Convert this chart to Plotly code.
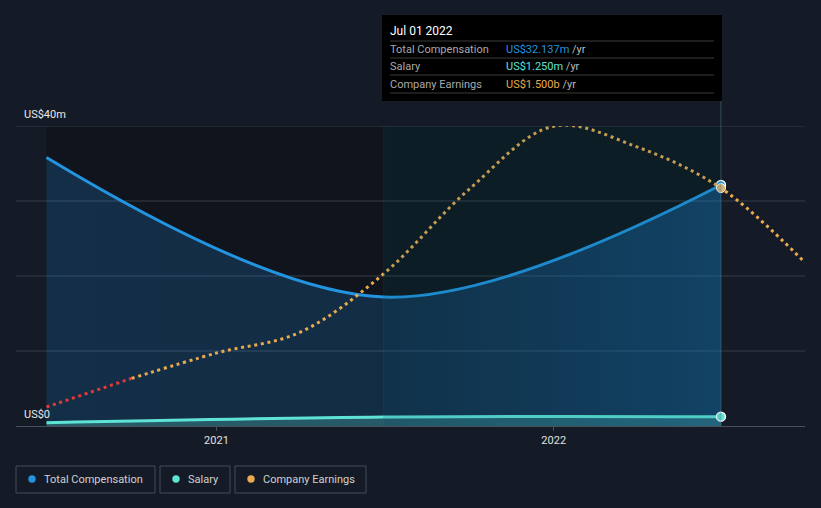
import plotly.graph_objects as go

# ---------------- data ----------------
comp_dates = ["2020-07-01", "2021-07-01", "2022-07-01"]
total_comp = [35.8, 17.2, 32.137]          # US$ m
salary = [0.45, 1.2, 1.25]                  # US$ m

earn_dates = ["2020-07-01", "2020-10-01", "2021-01-01", "2021-04-01", "2021-07-01",
              "2021-10-01", "2022-01-01", "2022-04-01", "2022-07-01", "2022-09-30"]
earnings = [0.12, 0.30, 0.46, 0.59, 0.96, 1.49, 1.89, 1.76, 1.50, 1.03]   # US$ b

x_ticks = ["2021-01-01", "2022-01-01"]
x_tick_text = ["2021", "2022"]
y_ticks = [10, 20, 30, 40]
y_label_vals = [0, 40]
y_label_text = ["US$0", "US$40m"]

legend_names = ["Total Compensation", "Salary", "Company Earnings"]

# ---------------- style ----------------
BG = "#151b26"
C_COMP = "#2394df"
C_SAL = "#5fe3d5"
C_EARN = "#e9ab4e"
C_RED = "#e5383b"
FONT = "Roboto"

W, H = 821, 508
ML, MR, MT, MB = 16, 16, 126, 82
PW = W - ML - MR
PH = H - MT - MB


def px(x):
    return (x - ML) / PW


def py(y):
    return (H - MB - y) / PH


fig = go.Figure()

# fills
fig.add_trace(go.Scatter(x=comp_dates, y=total_comp, mode="lines", line=dict(color=C_COMP, width=3, shape="spline"),
                         fill="tozeroy",
                         fillgradient=dict(type="horizontal",
                                           colorscale=[[0, "rgba(33,150,243,0.20)"], [0.5, "rgba(33,150,243,0.19)"],
                                                       [1, "rgba(33,150,243,0.34)"]]),
                         hoverinfo="skip", showlegend=False))
fig.add_trace(go.Scatter(x=comp_dates, y=salary, mode="lines", line=dict(color=C_SAL, width=3, shape="spline"),
                         fill="tozeroy", fillcolor="rgba(95,227,213,0.25)", hoverinfo="skip", showlegend=False))

# earnings (secondary scale)
fig.add_trace(go.Scatter(x=earn_dates[1:], y=earnings[1:], mode="lines", yaxis="y2",
                         line=dict(color=C_EARN, width=3, shape="spline", dash="3px,3.7px"),
                         hoverinfo="skip", showlegend=False))
fig.add_trace(go.Scatter(x=earn_dates[:2], y=earnings[:2], mode="lines", yaxis="y2",
                         line=dict(color=C_RED, width=3, dash="3px,3.7px"),
                         hoverinfo="skip", showlegend=False))

# hover markers at last point
fig.add_trace(go.Scatter(x=[comp_dates[-1]], y=[total_comp[-1]], mode="markers",
                         marker=dict(size=9, color=C_COMP, line=dict(color="white", width=1.5)),
                         hoverinfo="skip", showlegend=False))
fig.add_trace(go.Scatter(x=[comp_dates[-1]], y=[salary[-1]], mode="markers",
                         marker=dict(size=9, color=C_SAL, line=dict(color="white", width=1.5)),
                         hoverinfo="skip", showlegend=False))
fig.add_trace(go.Scatter(x=[earn_dates[-2]], y=[earnings[-2]], mode="markers", yaxis="y2",
                         marker=dict(size=9, color="#d9b06f", line=dict(color="white", width=1)),
                         hoverinfo="skip", showlegend=False))

shapes = []
# darker data region
shapes.append(dict(type="rect", xref="x", yref="paper", x0=comp_dates[0], x1=comp_dates[-1], y0=0, y1=1,
                   fillcolor="#10141c", line=dict(width=0), layer="below"))
# gridlines
for v in y_ticks:
    shapes.append(dict(type="line", xref="paper", yref="y", x0=0, x1=1, y0=v, y1=v,
                       line=dict(color="#363c47", width=1), layer="below"))
# hover band (overlay)
shapes.append(dict(type="rect", xref="x", yref="paper", x0=comp_dates[1], x1=comp_dates[-1], y0=0, y1=1,
                   fillcolor="rgba(3,80,100,0.15)", line=dict(width=0), layer="above"))
shapes.append(dict(type="line", xref="x", yref="paper", x0=comp_dates[1], x1=comp_dates[1], y0=0, y1=1,
                   line=dict(color="rgba(60,110,130,0.18)", width=1), layer="above"))
# hover vertical line
shapes.append(dict(type="line", xref="x", yref="paper", x0=comp_dates[-1], x1=comp_dates[-1], y0=0, y1=py(100),
                   line=dict(color="rgba(90,140,155,0.45)", width=1), layer="above"))

# tooltip
tx0, tx1, ty0, ty1 = 382, 722, 15, 101
shapes.append(dict(type="rect", xref="paper", yref="paper", x0=px(tx0), x1=px(tx1), y0=py(ty1), y1=py(ty0),
                   fillcolor="#000000", line=dict(width=0), layer="above"))
for yy in [41, 58, 75, 93]:
    shapes.append(dict(type="line", xref="paper", yref="paper", x0=px(390), x1=px(714), y0=py(yy), y1=py(yy),
                       line=dict(color="#3a3a3a", width=1), layer="above"))

annotations = []
annotations.append(dict(xref="paper", yref="paper", x=px(388), y=py(31), text="Jul 01 2022", showarrow=False,
                        xanchor="left", yanchor="middle", font=dict(family=FONT, size=12, color="#ffffff")))
rows = [
    ("Total Compensation", "US$%.3fm" % total_comp[-1], C_COMP, 49),
    ("Salary", "US$%.3fm" % salary[-1], C_SAL, 66),
    ("Company Earnings", "US$%.3fb" % earnings[-2], C_EARN, 84),
]
for lab, val, col, yy in rows:
    annotations.append(dict(xref="paper", yref="paper", x=px(388), y=py(yy), text=lab, showarrow=False,
                            xanchor="left", yanchor="middle", font=dict(family=FONT, size=11, color="#a9a9a9")))
    annotations.append(dict(xref="paper", yref="paper", x=px(504), y=py(yy),
                            text=f"<span style='color:{col}'>{val}</span> <span style='color:#bbbbbb'>/yr</span>",
                            showarrow=False, xanchor="left", yanchor="middle",
                            font=dict(family=FONT, size=11, color=col)))

# y axis labels (inside, above gridline)
for v, t in zip(y_label_vals, y_label_text):
    annotations.append(dict(xref="paper", yref="y", x=px(22), y=v, text=t, showarrow=False,
                            xanchor="left", yanchor="bottom", yshift=3,
                            font=dict(family=FONT, size=11, color="#e8e8e8")))

# legend boxes
leg_boxes = [(16, 155, 32), (160, 230, 176), (235, 366, 251)]
leg_cols = [C_COMP, C_SAL, C_EARN]
for (bx0, bx1, cx), name, col in zip(leg_boxes, legend_names, leg_cols):
    shapes.append(dict(type="rect", xref="paper", yref="paper", x0=px(bx0), x1=px(bx1), y0=py(493), y1=py(466),
                       fillcolor="rgba(0,0,0,0)", line=dict(color="#454b56", width=1), layer="above"))
    shapes.append(dict(type="circle", xref="paper", yref="paper", x0=px(cx - 3.7), x1=px(cx + 3.7),
                       y0=py(479 + 3.7), y1=py(479 - 3.7), fillcolor=col, line=dict(width=0), layer="above"))
    annotations.append(dict(xref="paper", yref="paper", x=px(cx + 10), y=py(479.5), text=name, showarrow=False,
                            xanchor="left", yanchor="middle", font=dict(family=FONT, size=11, color="#d0d0d0")))

fig.update_layout(
    width=W, height=H,
    margin=dict(l=ML, r=MR, t=MT, b=MB),
    paper_bgcolor=BG, plot_bgcolor=BG,
    showlegend=False,
    font=dict(family=FONT, size=11, color="#e0e0e0"),
    xaxis=dict(range=["2020-05-29", "2022-09-30"], tickvals=x_ticks, ticktext=x_tick_text,
               showgrid=False, zeroline=False, showline=True, linecolor="#4a505a", linewidth=1,
               ticks="outside", ticklen=4, tickcolor="#4a505a", tickfont=dict(size=11, color="#e0e0e0")),
    yaxis=dict(range=[0, 40], showticklabels=False,
               showgrid=False, zeroline=False, showline=False, ticks=""),
    yaxis2=dict(range=[0, 1.8915], overlaying="y", visible=False, showgrid=False),
    shapes=shapes,
    annotations=annotations,
)

fig.write_html("out.html")
